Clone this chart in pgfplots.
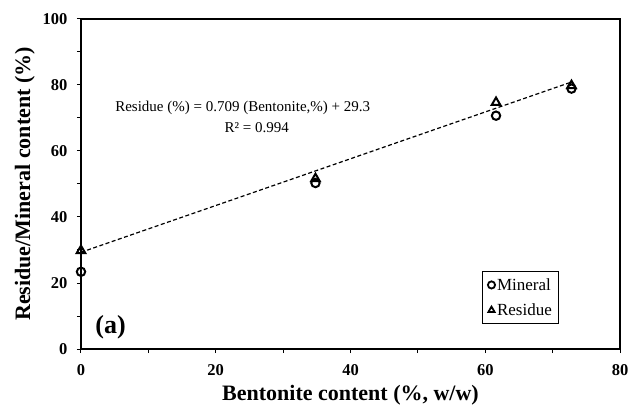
\documentclass[border=0pt]{standalone}
\usepackage{pgfplots}
\pgfplotsset{compat=1.18}
\usepackage{fontspec}
\setmainfont{Liberation Serif}
\begin{document}
\begin{tikzpicture}
\begin{axis}[
  scale only axis, width=539pt, height=330pt,
  xmin=0, xmax=80, ymin=0, ymax=100,
  xtick={0,20,...,80}, ytick={0,20,...,100},
  minor xtick={10,30,50,70}, minor ytick={10,30,50,70,90},
  tick align=outside, major tick length=4pt, minor tick length=4pt,
  xtick pos=bottom, ytick pos=left,
  every tick/.style={black, line width=1pt},
  axis line style={line width=1.5pt},
  /pgf/number format/assume math mode=true,
  tick label style={font=\fontsize{16.5}{18}\selectfont\bfseries},
  xticklabel style={yshift=-8pt},
  yticklabel style={xshift=-6pt},
  xlabel={Bentonite content (\%, w/w)},
  ylabel={Residue/Mineral content (\%)},
  label style={font=\fontsize{22}{24}\selectfont\bfseries},
  xlabel style={yshift=-3pt},
  ylabel style={yshift=1pt},
  clip=false,
  legend style={at={(axis cs:71.0,23.7)}, anchor=north east, draw=black, line width=1pt,
    font=\fontsize{17}{19}\selectfont, row sep=8pt, inner xsep=5pt, inner ysep=5pt,
    legend cell align=left, /tikz/every even column/.append style={column sep=0pt}},
  legend image code/.code={\draw[#1, mark size=3.6pt, line width=1.8pt] (0.45em,0) -- plot coordinates {(0.45em,0)};},
]
\addplot[black, dash pattern=on 4pt off 2.5pt, line width=1.2pt, forget plot] coordinates {(0,29.3) (72.8,80.9)};
\addplot[only marks, mark=o, mark size=4.2pt, black, line width=2pt] coordinates {
(0,23.4) (34.8,50.3) (61.6,70.7) (72.8,78.9)};
\addlegendentry{Mineral}
\addplot[only marks, mark=triangle, mark size=5pt, black, line width=2pt] coordinates {
(0,29.8) (34.8,51.6) (61.6,74.7) (72.8,79.8)};
\addlegendentry{Residue}
\node[font=\fontsize{15}{17}\selectfont] at (axis cs:24.0,73.1) {Residue (\%) = 0.709 (Bentonite,\%) + 29.3};
\node[font=\fontsize{15}{17}\selectfont] at (axis cs:26.1,67.0) {R² = 0.994};
\node[font=\fontsize{26}{28}\selectfont\bfseries] at (axis cs:4.4,6.7) {(a)};
\end{axis}
\pgfresetboundingbox
\path (current axis.south west) ++(-81pt,-57pt) rectangle ([xshift=10pt,yshift=19pt]current axis.north east);
\end{tikzpicture}
\end{document}
